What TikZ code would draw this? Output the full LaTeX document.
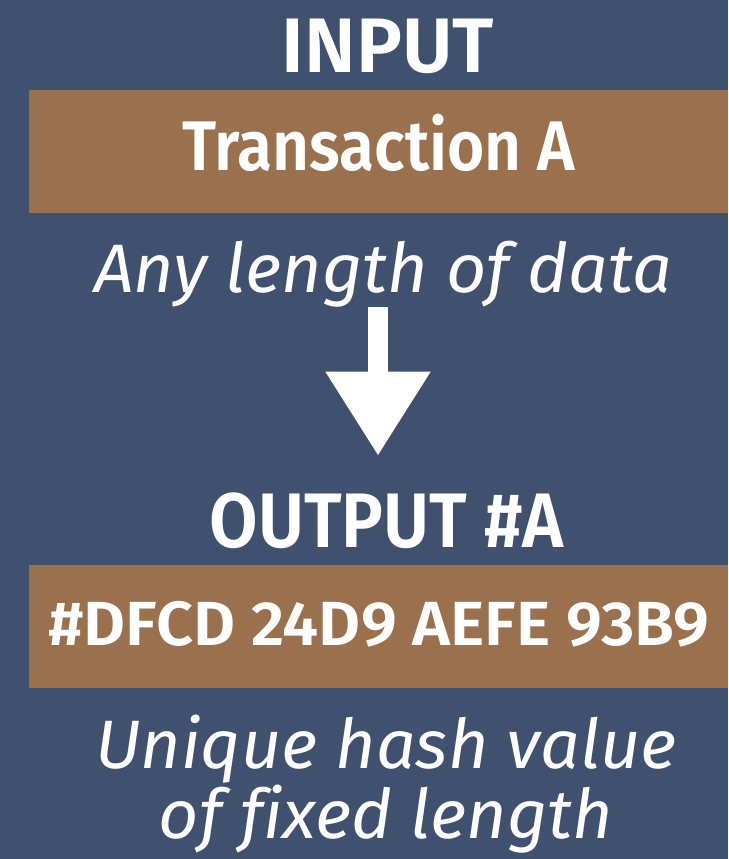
\documentclass[tikz,border=0pt]{standalone}
\usepackage{fontspec}
\setmainfont{Fira Sans}
\newfontfamily\headfont{Fira Sans SemiBold}
\usetikzlibrary{positioning,arrows.meta}
\definecolor{slateblue}{HTML}{405170}
\definecolor{hashtan}{HTML}{9B704C}
% face for the bold lines: stretch, size
\newcommand\headface[2]{\headfont\addfontfeature{FakeStretch=#1}\fontsize{#2}{#2}\selectfont}
\tikzset{
	every node/.style = {text=white, inner sep=0, anchor=base},
	heading/.style = {font=\headface{#1}{44}},
	barbox/.style = {fill=hashtan, anchor=center, minimum width=13.98cm, minimum height=2.46cm},
	note/.style = {font=\itshape\addfontfeatures{FakeStretch=1.02, Ligatures=NoCommon}\fontsize{39}{37.5}\selectfont, align=center},
	bigarrow/.style = {draw=white, line width=11.3pt, -{Triangle[length=48pt, width=56.7pt]}}
}

\begin{document}
\begin{tikzpicture}[x=0.02cm, y=-0.02cm]
		\fill[slateblue] (0,0) rectangle (728,859);
		\useasboundingbox (0,0) rectangle (728,859);
		\node(inhead)[heading=1.0] at (388,72) {INPUT};
		\node(inbar)[barbox, font=\headface{0.91}{40}, text height=0.98cm, text depth=0.2cm] at (378.5,151.5) {Transaction A};
		\node(anylen)[note] at (383,292) {Any length of data};
		\node(outhead)[heading=0.91] at (386.5,547) {OUTPUT \#A};
		\node(outbar)[barbox, font=\headface{1.04}{35.5}, text height=0.86cm, text depth=0.12cm] at (378.5,626.5) {\#DFCD 24D9 AEFE 93B9};
		\node(fixed)[note, anchor=north] at (386,715) {Unique hash value\\of fixed length};
		
		\draw[bigarrow] (anylen.south -| 378,0) -- ([yshift=0.72cm]outhead.north -| 378,0);
\end{tikzpicture}
\end{document}
